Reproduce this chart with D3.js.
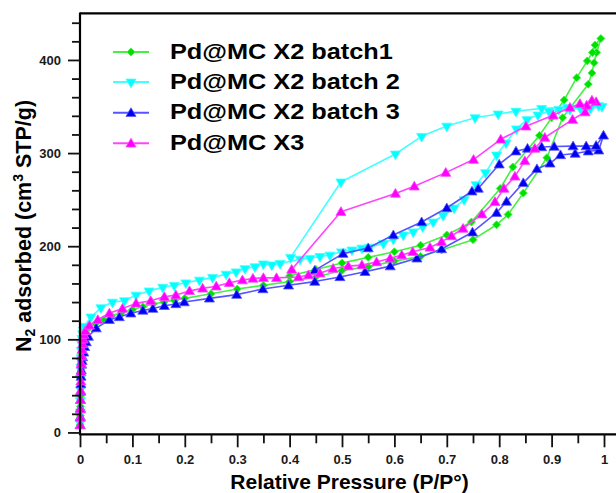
<!DOCTYPE html>
<html><head><meta charset="utf-8">
<script src="https://cdn.jsdelivr.net/npm/d3@7/dist/d3.min.js"></script>
<style>body{margin:0;background:#fff}svg{display:block}</style>
</head><body>
<svg id="c" width="616" height="493"></svg>
<script>
// ---------------- data ----------------
const seriesNames = ["Pd@MC X2 batch1", "Pd@MC X2 batch 2", "Pd@MC X2 batch 3", "Pd@MC X3"];

const batch1P = [0.0004,0.0006,0.0008,0.001,0.0013,0.0016,0.002,0.0025,0.003,0.0038,0.0048,0.006,0.0075,0.01,
  0.018,0.03,0.045,0.06,0.08,0.1,0.12,0.14,0.16,0.18,0.2,
  0.25,0.3,0.35,0.4,0.45,0.5,0.55,0.6,0.65,0.69,
  0.75,0.795,0.817,0.846,0.891,0.921,0.97,0.977,0.981,0.986,0.994,
  0.983,0.978,0.968,0.948,0.924,0.90,0.877,0.826,0.802,0.747,0.70,0.65,0.60,0.55,0.50,0.45,0.40];
const batch1V = [8,18,28,38,48,58,67,76,84,91,97,102,106,109,
  113,117,121,125,129,132,135,138,140,142,144,
  149,154,158,162,167,174,178,184,189,196,
  207,223,234,257,295,338,374,386,397,408,423,
  416,408,399,381,357,338,319,285,262,226,212,201,194,188,182,175,168];

const batch2P = [0.0004,0.0006,0.0008,0.001,0.0013,0.0016,0.002,0.0025,0.003,0.0038,0.0048,0.006,0.008,
  0.021,0.04,0.062,0.085,0.107,0.132,0.158,0.18,0.202,0.228,0.253,0.279,0.298,
  0.315,0.334,0.35,0.366,0.382,0.42,0.439,0.458,0.477,0.499,
  0.519,0.538,0.553,0.579,0.598,0.617,0.636,0.654,0.674,0.693,
  0.714,0.733,0.756,0.774,0.795,0.813,0.833,0.853,0.874,0.895,
  0.914,0.935,0.955,0.974,0.996,
  0.99,0.93,0.881,0.832,0.798,0.754,0.70,0.652,0.602,0.498,0.402];
const batch2V = [10,22,34,46,58,70,80,88,95,101,106,110,114,
  124,134,140,141.5,147.5,152,156,158,160.7,163.6,166.5,170,172.5,
  176,178,181,180,181.5,186,187,189,190.5,194,
  196,198,199,203,207.6,212,215.4,221,226,233,
  241,250,266,279,298,311,326,336,341,345,
  347,347,348,348,350,
  351,349,348,345,342,338,329,318,299,269,188];

const batch3P = [0.0004,0.0006,0.0008,0.001,0.0013,0.0016,0.002,0.0025,0.003,0.004,0.005,0.007,0.009,0.012,0.016,
  0.031,0.056,0.075,0.097,0.12,0.139,0.161,0.183,0.199,
  0.247,0.299,0.349,0.398,0.448,0.496,0.544,0.592,0.643,0.69,
  0.749,0.795,0.814,0.846,0.872,0.897,0.917,0.945,0.97,0.99,0.999,
  0.985,0.966,0.941,0.905,0.881,0.854,0.832,0.80,0.76,0.748,0.70,0.652,0.598,0.55,0.502,0.448];
const batch3V = [8,17,26,35,44,52,60,67,73,77,81,86,92,97,103,
  112,121,124,128,131,133,136,138,140,
  144,148,154,158,162,167,172.5,178.6,187,197,
  215,236,248,268,283,289,298,299.5,302,303,319,
  308,307.5,307.5,307,306.5,305,302,288,262,259,241,226,212,198,192,174];

const x3P = [0.0004,0.0006,0.0008,0.001,0.0013,0.0016,0.002,0.0025,0.003,0.0038,0.0048,0.006,0.0075,0.01,
  0.018,0.034,0.056,0.081,0.107,0.135,0.161,0.183,0.209,0.234,
  0.26,0.285,0.31,0.33,0.35,0.375,0.417,0.436,0.458,0.483,
  0.512,0.538,0.566,0.592,0.614,0.635,0.668,0.69,0.709,0.731,
  0.767,0.792,0.809,0.83,0.849,0.868,0.887,0.94,0.964,0.985,
  0.977,0.967,0.954,0.935,0.903,0.851,0.803,0.751,0.698,0.638,0.602,0.498,0.404];
const x3V = [8,16,25,35,45,55,65,74,82,89,95,100,105,109,
  115,121,128,133,138.6,141.4,145.7,147.5,152,154.7,
  157,160.7,163.6,165.4,166,166,167,169,171,176,
  178.6,179.7,183,187,190.4,194,198.7,204.7,211,219,
  234.4,247.6,262,275,291.6,305,316.7,336,344,355,
  356.7,351.3,353,349,340.6,328.8,314.8,293,279,264.4,256.6,237,175];

const xMajorTicks = [0,0.1,0.2,0.3,0.4,0.5,0.6,0.7,0.8,0.9,1];
const xMinorTicks = [0.05,0.15,0.25,0.35,0.45,0.55,0.65,0.75,0.85,0.95];
const yMajorTicks = [0,100,200,300,400];
const yMinorTicks = [20,40,60,80,120,140,160,180,220,240,260,280,320,340,360,380,420,440];

// ---------------- styling ----------------
const styles = [
  {line:"#44f044", fill:"#00e000", shape:"diamond"},
  {line:"#44ffff", fill:"#00ffff", shape:"down"},
  {line:"#5555ff", fill:"#0000f0", shape:"up"},
  {line:"#ff44ff", fill:"#ff00ff", shape:"up"}
];
const seriesData = [
  d3.zip(batch1P, batch1V),
  d3.zip(batch2P, batch2V),
  d3.zip(batch3P, batch3V),
  d3.zip(x3P, x3V)
];

const svg = d3.select("#c");
const FONT = "'Liberation Sans', Arial, sans-serif";
const x = d3.scaleLinear().domain([0,1]).range([80,604]);
const y = d3.scaleLinear().domain([-2,450]).range([434.3,13.4]);

function symbolPath(shape){
  if(shape==="diamond") return d3.symbol().type(d3.symbolSquare).size(32)();
  return d3.symbol().type(d3.symbolTriangle).size(44)();
}
function symTransform(shape, px, py){
  if(shape==="diamond") return `translate(${px},${py}) rotate(45)`;
  return shape==="down" ? `translate(${px},${py}) rotate(180)` : `translate(${px},${py + 0.8})`;
}

// series
const line = d3.line().x(d=>x(d[0])).y(d=>y(d[1]));
seriesData.forEach((data,i)=>{
  const st = styles[i];
  const g = svg.append("g");
  g.append("path").attr("d", line(data)).attr("fill","none")
    .attr("stroke", st.line).attr("stroke-width",1.6).attr("stroke-linejoin","round");
  g.selectAll("path.m").data(data).enter().append("path").attr("class","m")
    .attr("d", symbolPath(st.shape))
    .attr("transform", d=>symTransform(st.shape, x(d[0]), y(d[1])))
    .attr("fill", st.fill).attr("stroke", st.line).attr("stroke-width",0.8);
});

// frame
const x0 = x(0), yTop = y(450), yBot = y(-2);
svg.append("line").attr("x1",x0).attr("x2",640).attr("y1",yTop).attr("y2",yTop).attr("stroke","#000").attr("stroke-width",2.2);
svg.append("line").attr("x1",x0).attr("x2",640).attr("y1",yBot).attr("y2",yBot).attr("stroke","#000").attr("stroke-width",2.2);
svg.append("line").attr("x1",x0).attr("x2",x0).attr("y1",yTop-1).attr("y2",yBot+1).attr("stroke","#000").attr("stroke-width",2.2);

// x axis
const xAxisMajor = d3.axisBottom(x).tickValues(xMajorTicks).tickSize(13).tickPadding(7)
  .tickFormat(d=>String(+d.toFixed(1)));
const xAxisMinor = d3.axisBottom(x).tickValues(xMinorTicks).tickSize(9).tickFormat("");
const gxM = svg.append("g").attr("transform",`translate(0,${yBot})`).call(xAxisMajor);
const gxm = svg.append("g").attr("transform",`translate(0,${yBot})`).call(xAxisMinor);
[gxM,gxm].forEach(g=>{g.select(".domain").remove(); g.selectAll(".tick line").attr("stroke","#111").attr("stroke-width",1.8);});
gxM.selectAll(".tick text").attr("font-family",FONT).attr("font-weight","bold").attr("font-size",13).attr("fill","#1a1a1a");

// y axis
const yAxisMajor = d3.axisLeft(y).tickValues(yMajorTicks).tickSize(12).tickPadding(7).tickFormat(d3.format("d"));
const yAxisMinor = d3.axisLeft(y).tickValues(yMinorTicks).tickSize(8).tickFormat("");
const gyM = svg.append("g").attr("transform",`translate(${x0},0)`).call(yAxisMajor);
const gym = svg.append("g").attr("transform",`translate(${x0},0)`).call(yAxisMinor);
[gyM,gym].forEach(g=>{g.select(".domain").remove(); g.selectAll(".tick line").attr("stroke","#111").attr("stroke-width",1.8);});
gyM.selectAll(".tick text").attr("font-family",FONT).attr("font-weight","bold").attr("font-size",13).attr("fill","#1a1a1a");

// axis titles
svg.append("text").attr("x",349.5).attr("y",489).attr("text-anchor","middle")
  .attr("font-family",FONT).attr("font-weight","bold").attr("font-size",21).attr("fill","#000")
  .text("Relative Pressure (P/P°)");
const yt = svg.append("text").attr("transform","translate(31,226) rotate(-90)").attr("text-anchor","middle")
  .attr("font-family",FONT).attr("font-weight","bold").attr("font-size",21.5).attr("fill","#000");
yt.append("tspan").text("N");
yt.append("tspan").attr("font-size",14).attr("dy",4).text("2");
yt.append("tspan").attr("dy",-4).text(" adsorbed (cm");
yt.append("tspan").attr("font-size",14).attr("dy",-8).text("3");
yt.append("tspan").attr("dy",8).text(" STP/g)");

// legend
const legRows = [52, 82, 112.7, 143.3];
seriesNames.forEach((name,i)=>{
  const st = styles[i];
  const g = svg.append("g").attr("transform",`translate(0,${legRows[i]})`);
  g.append("line").attr("x1",113).attr("x2",149).attr("y1",0).attr("y2",0).attr("stroke",st.line).attr("stroke-width",2);
  g.append("path").attr("d",symbolPath(st.shape)).attr("transform",symTransform(st.shape,131,0))
    .attr("fill",st.fill).attr("stroke",st.line).attr("stroke-width",0.8);
  const t = g.append("text").attr("x",170).attr("y",6.5).attr("font-family",FONT).attr("font-weight","bold")
    .attr("font-size",22).attr("fill","#000").text(name);
  const w = t.node().getComputedTextLength();
  t.attr("textLength", w*1.15).attr("lengthAdjust","spacingAndGlyphs");
});
</script>
</body></html>
